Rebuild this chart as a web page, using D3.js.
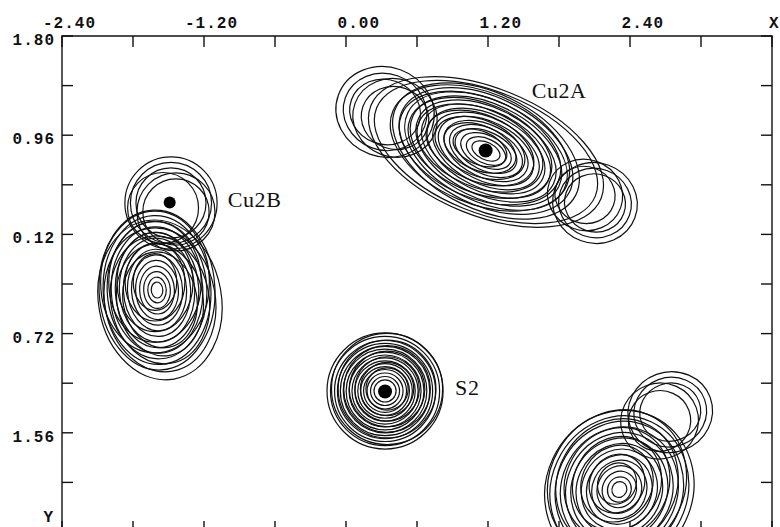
<!DOCTYPE html>
<html><head><meta charset="utf-8">
<script src="https://cdn.jsdelivr.net/npm/d3@7"></script>
<style>html,body{margin:0;padding:0;background:#fff;}svg{display:block;}</style>
</head><body>
<script>
// ---- axis data ----
const xTickValues = [-2.4,-1.8,-1.2,-0.6,0.0,0.6,1.2,1.8,2.4,3.0,3.6];
const xLabelValues = [-2.4,-1.2,0.0,1.2,2.4];
const xLabelTexts = ["-2.40","-1.20","0.00","1.20","2.40"];
const yTickValues = [1.8,1.38,0.96,0.54,0.12,-0.30,-0.72,-1.14,-1.56,-1.98,-2.4];
const yLabelValues = [1.8,0.96,0.12,-0.72,-1.56];
const yLabelTexts = ["1.80","0.96","0.12","0.72","1.56"];

// ---- atoms ----
const atomNames = ["Cu2A","Cu2B","S2"];
const atomX = [1.18,-1.49,0.33];
const atomY = [0.83,0.39,-1.21];

// ---- contour families (data units): centre, outer semi-axes, rotation (deg), contour levels ----
const famCx  = [0.330,0.347, 1.183,1.132,1.183,0.330,0.414,2.104,2.020, -1.479,-1.437,-1.546,-1.597,-1.572,-1.614, 2.310,2.290,2.740,2.650];
const famCy  = [-1.206,-1.189, 0.826,0.852,0.818,1.157,1.106,0.386,0.454, 0.386,0.310,0.344,-0.351,-0.435,-0.283, -2.040,-1.990,-1.385,-1.460];
const famRx  = [0.491,0.470, 0.846,0.800,1.050,0.420,0.360,0.360,0.320, 0.390,0.330,0.300,0.490,0.520,0.460, 0.680,0.640,0.360,0.330];
const famRy  = [0.491,0.470, 0.490,0.470,0.540,0.380,0.330,0.340,0.300, 0.390,0.330,0.300,0.677,0.680,0.600, 0.620,0.570,0.340,0.320];
const famAng = [0,0, -26,-23,-22,-20,-20,-20,-20, 0,0,0, 3,10,0, 65,60,20,20];
const famLevels = [
  [1,0.94,0.87,0.82,0.77,0.72,0.67,0.62,0.57,0.52,0.47,0.42,0.37,0.31,0.25,0.19],
  [1,0.88,0.78,0.68,0.58,0.48,0.38],
  [1,0.93,0.87,0.81,0.75,0.69,0.63,0.57,0.51,0.45,0.39,0.33,0.27,0.21,0.15],
  [1,0.9,0.8,0.7,0.6,0.5,0.4,0.3],
  [1,0.95],
  [1,0.85,0.72],
  [1,0.8],
  [1,0.86,0.72],
  [1,0.8],
  [1,0.88,0.76],
  [1,0.85],
  [1],
  [1,0.93,0.86,0.79,0.72,0.65,0.58,0.51,0.44,0.37,0.30,0.23,0.16,0.10],
  [1,0.9,0.8,0.7,0.6],
  [1,0.85,0.7,0.55,0.4],
  [1,0.93,0.86,0.79,0.72,0.65,0.58,0.51,0.44,0.37,0.30,0.23,0.16,0.10],
  [1,0.88,0.76,0.64,0.52,0.4,0.28],
  [1,0.86,0.72],
  [1,0.8]
];

const W = 780, H = 527;
const pL = 62, pR = 772, pT = 36, pB = 532;
const x = d3.scaleLinear().domain([-2.4,3.6]).range([pL,pR]);
const y = d3.scaleLinear().domain([-2.4,1.8]).range([pB,pT]);
const k = ((x(1)-x(0)) + (y(0)-y(1)))/2;

const svg = d3.select("body").append("svg").attr("width",W).attr("height",H);
svg.append("defs").append("clipPath").attr("id","plot")
  .append("rect").attr("x",pL).attr("y",pT).attr("width",pR-pL).attr("height",pB-pT);

// contours
const ellipses = [];
famCx.forEach((cx,i)=>{
  famLevels[i].forEach(l=>ellipses.push({cx,cy:famCy[i],rx:famRx[i]*l,ry:famRy[i]*l,a:famAng[i]}));
});
svg.append("g").attr("clip-path","url(#plot)")
  .selectAll("ellipse").data(ellipses).join("ellipse")
  .attr("transform",d=>`translate(${x(d.cx)},${y(d.cy)}) rotate(${-d.a})`)
  .attr("rx",d=>d.rx*k).attr("ry",d=>d.ry*k)
  .attr("fill","none").attr("stroke","#111").attr("stroke-width",1.2);

// atom dots
svg.append("g").selectAll("circle").data(atomNames).join("circle")
  .attr("cx",(d,i)=>x(atomX[i])).attr("cy",(d,i)=>y(atomY[i]))
  .attr("r",(d,i)=>i===1?6:7).attr("fill","#000");

// atom labels
const labOff = [[46,-53],[58,4],[70,4]];
svg.append("g").selectAll("text").data(atomNames).join("text")
  .attr("x",(d,i)=>x(atomX[i])+labOff[i][0]).attr("y",(d,i)=>y(atomY[i])+labOff[i][1])
  .attr("font-family","'Liberation Serif','Times New Roman',serif")
  .attr("font-size",22).attr("letter-spacing",0.6).attr("fill","#111").text(d=>d);

// frame
const ax = svg.append("g").attr("stroke","#111").attr("stroke-width",1.4).attr("fill","none");
ax.append("path").attr("d",`M${pL},${H+10}V${pT}H${pR}V${H+10}`);
ax.append("path").attr("d",`M${pL},${pB}H${pR}`);

// ticks (inward)
const tl = 11;
ax.selectAll(".tt").data(xTickValues).join("line").attr("class","tt")
  .attr("x1",d=>x(d)).attr("x2",d=>x(d)).attr("y1",pT).attr("y2",pT+tl);
ax.selectAll(".tb").data(xTickValues).join("line").attr("class","tb")
  .attr("x1",d=>x(d)).attr("x2",d=>x(d)).attr("y1",pB).attr("y2",pB-tl);
ax.selectAll(".tl").data(yTickValues).join("line").attr("class","tl")
  .attr("y1",d=>y(d)).attr("y2",d=>y(d)).attr("x1",pL).attr("x2",pL+tl);
ax.selectAll(".tr").data(yTickValues).join("line").attr("class","tr")
  .attr("y1",d=>y(d)).attr("y2",d=>y(d)).attr("x1",pR).attr("x2",pR-tl);

// tick labels
const mono = {"font-family":"'Liberation Mono','DejaVu Sans Mono',monospace","font-weight":"bold","font-size":16,"letter-spacing":1.0,"fill":"#111"};
function applyMono(sel){Object.entries(mono).forEach(([a,v])=>sel.attr(a,v));return sel;}
applyMono(svg.append("g").selectAll("text").data(xLabelValues).join("text")
  .attr("x",d=>x(d)+34).attr("y",28).attr("text-anchor","end").text((d,i)=>xLabelTexts[i]));
applyMono(svg.append("g").selectAll("text").data(yLabelValues).join("text")
  .attr("x",55).attr("y",d=>y(d)+9).attr("text-anchor","end").text((d,i)=>yLabelTexts[i]));
applyMono(svg.append("text").attr("x",769).attr("y",28).text("X"));
applyMono(svg.append("text").attr("x",54).attr("y",522).attr("text-anchor","end").text("Y"));
</script>
</body></html>
